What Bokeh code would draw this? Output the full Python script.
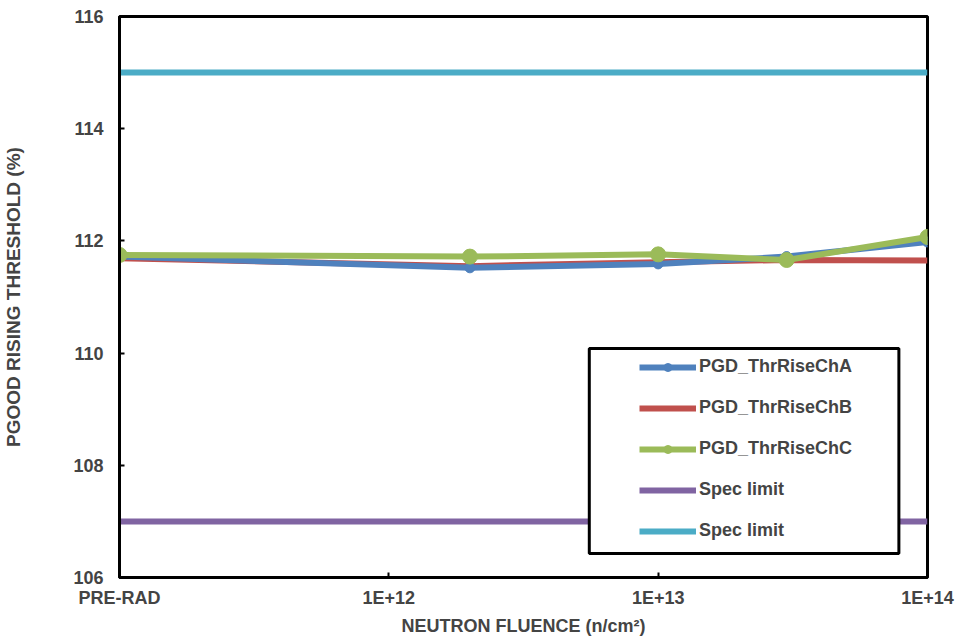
from bokeh.plotting import figure
from bokeh.models import FixedTicker, Legend, LegendItem, BoxAnnotation
from bokeh.embed import file_html
from bokeh.resources import INLINE

fluence = [1e11, 2e12, 1e13, 3e13, 1e14]
ch_a = [111.72, 111.52, 111.59, 111.72, 111.98]
ch_b = [111.69, 111.55, 111.62, 111.66, 111.65]
ch_c = [111.75, 111.72, 111.76, 111.66, 112.07]
spec_x = [1e11, 1e14]
spec_low = [107, 107]
spec_high = [115, 115]
x_ticks = [1e11, 1e12, 1e13, 1e14]
x_tick_labels = ["PRE-RAD", "1E+12", "1E+13", "1E+14"]
y_ticks = [106, 108, 110, 112, 114, 116]

FONT = "Liberation Sans"

p = figure(width=956, height=640, x_axis_type="log", x_range=(1e11, 1e14), y_range=(106, 116),
           output_backend="svg", toolbar_location=None,
           min_border_left=118, min_border_right=29, min_border_top=16, min_border_bottom=63)
p.xgrid.visible = False
p.ygrid.visible = False
p.outline_line_color = "black"
p.outline_line_width = 3

r_low = p.line(spec_x, spec_low, color="#8064A2", line_width=6)
r_high = p.line(spec_x, spec_high, color="#4BACC6", line_width=6)
r_b = p.line(fluence, ch_b, color="#C0504D", line_width=6)
r_a = p.line(fluence, ch_a, color="#4F81BD", line_width=6)
r_as = p.scatter(fluence, ch_a, color="#4F81BD", size=10)
r_c = p.line(fluence, ch_c, color="#9BBB59", line_width=6)
r_cs = p.scatter(fluence, ch_c, color="#9BBB59", size=15)

p.xaxis.ticker = FixedTicker(ticks=x_ticks)
p.xaxis.major_label_overrides = {t: l for t, l in zip(x_ticks, x_tick_labels)}
p.yaxis.ticker = FixedTicker(ticks=y_ticks)
for ax in (p.xaxis, p.yaxis):
    ax.minor_tick_line_color = None
    ax.major_tick_in = 5
    ax.major_tick_out = 0
    ax.major_tick_line_width = 2
    ax.axis_line_width = 3
    ax.major_label_text_font = FONT
    ax.major_label_text_font_style = "bold"
    ax.major_label_text_font_size = "18px"
    ax.axis_label_text_font = FONT
    ax.axis_label_text_font_style = "bold"
    ax.axis_label_text_font_size = "18px"
p.yaxis.axis_label_text_font_size = "19px"
p.xaxis.major_label_standoff = 10
p.yaxis.major_label_standoff = 16
p.xaxis.axis_label = "NEUTRON FLUENCE (n/cm²)"
p.yaxis.axis_label = "PGOOD RISING THRESHOLD (%)"
p.xaxis.axis_label_standoff = 5
p.yaxis.axis_label_standoff = 46

box = BoxAnnotation(left=5.55e12, right=7.83e13, top=110.08, bottom=106.43,
                    fill_color="white", fill_alpha=1.0, line_color="black",
                    line_alpha=1.0, line_width=3)
p.add_layout(box)

legend = Legend(items=[
    LegendItem(label="PGD_ThrRiseChA", renderers=[r_a, r_as]),
    LegendItem(label="PGD_ThrRiseChB", renderers=[r_b]),
    LegendItem(label="PGD_ThrRiseChC", renderers=[r_c, r_cs]),
    LegendItem(label="Spec limit", renderers=[r_low]),
    LegendItem(label="Spec limit", renderers=[r_high]),
], location=(520, 36))
legend.border_line_color = None
legend.background_fill_alpha = 0
legend.padding = 0
legend.margin = 0
legend.spacing = 20
legend.glyph_width = 57
legend.glyph_height = 20
legend.label_height = 20
legend.label_standoff = 3
legend.label_text_font = FONT
legend.label_text_font_style = "bold"
legend.label_text_font_size = "18px"
p.add_layout(legend)

open("out.html", "w").write(file_html(p, INLINE))
